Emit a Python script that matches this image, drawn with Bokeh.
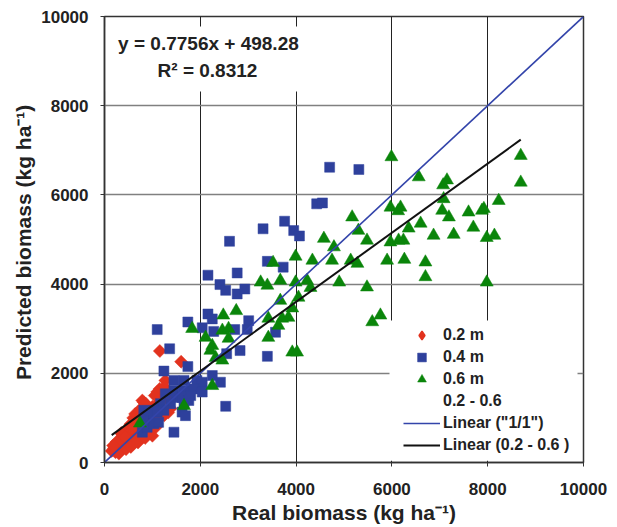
import math
from bokeh.plotting import figure
from bokeh.models import (Range1d, FixedTicker, Label, BoxAnnotation, Legend, LegendItem)
from bokeh.embed import file_html
from bokeh.resources import INLINE

FONT = "Liberation Sans"

# ---- data ----
red_x = [150, 200, 230, 260, 290, 320, 340, 370, 390, 420, 440, 470, 500, 520, 540, 570, 600, 620, 650, 680,
         700, 720, 750, 780, 800, 820, 850, 880, 900, 920, 950, 980, 1000, 1020, 1050, 1080, 1100, 1120, 1150, 1180,
         1200, 1250, 1300, 1155, 1600, 1270, 1100, 790, 860, 1340, 1380, 1200, 960, 640, 1400, 1050, 350, 250, 600, 430,
         1000, 750, 1330, 1250, 300, 450, 550, 700, 850, 180]
red_y = [260, 320, 230, 420, 330, 520, 290, 620, 450, 340, 720, 530, 410, 660, 860, 480, 1000, 700, 560, 900,
         1100, 620, 820, 1000, 700, 1350, 920, 620, 1150, 800, 1020, 720, 1250, 900, 1120, 800, 1300, 960, 1650, 1220,
         1450, 1060, 1520, 2500, 2260, 1840, 1580, 1390, 1320, 1390, 1210, 1130, 1020, 1090, 1500, 1500, 660, 460, 420, 570,
         600, 1200, 1120, 1700, 200, 300, 350, 450, 550, 380]

blue_x = [4700, 5310, 4430, 4550, 3760, 3950, 4070, 3310, 2610, 3400, 3730, 2160, 2770, 2410, 2530, 2770, 2930,
          2160, 2250, 1740, 2040, 2280, 2720, 3010, 2980, 3570, 2830, 3400, 2550, 1740, 1100, 1360, 1240, 1450,
          1660, 1930, 2040, 1450, 1660, 1860, 1270, 1480, 1620, 1800, 2040, 2420, 2250, 2530, 1170, 1380, 1030,
          1240, 1660, 1760, 1620, 820, 920, 1100, 790, 890, 820, 1030, 1130, 1450, 1690]
blue_y = [6620, 6570, 5800, 5820, 5410, 5200, 5080, 5240, 4960, 4510, 4380, 4200, 4250, 3990, 3860, 3780, 3890,
          3330, 3220, 3150, 3020, 2940, 2980, 3180, 2980, 2920, 2510, 2380, 2440, 2150, 2980, 2550, 2050, 1840,
          1840, 1840, 1800, 1610, 1610, 1650, 1540, 1460, 1460, 1500, 1580, 1800, 1950, 1260, 1320, 1320, 1170,
          1170, 1320, 1390, 1130, 1170, 1090, 1130, 680, 790, 940, 870, 900, 680, 1050]

green_x = [5990, 6560, 7070, 7150, 8690, 8690, 8230, 7880, 7920, 7600, 7700, 7290, 7190, 7050, 7080, 7980, 8140,
           7980, 6870, 6600, 6350, 6180, 5970, 6130, 6140, 6240, 5970, 5900, 6260, 6700, 6700,
           5300, 5170, 5480, 4580, 4790, 4750, 5140, 5280, 4900, 5480, 5590, 5760,
           3990, 4340, 3520, 3260, 3400, 3670, 3990, 4230, 4300, 3670, 4050, 3920, 3420, 3710, 3840, 3630, 3420,
           3920, 4020, 2480, 2750, 2460, 2590, 2590, 2110, 2250, 2210, 2320, 2460, 2250, 1830, 1660, 740]
green_y = [6850, 6400, 6220, 6330, 6880, 6280, 5870, 5650, 5690, 5610, 5270, 5110, 5500, 5650, 5910, 5040, 5090,
           4040, 5090, 5360, 5250, 5720, 5720, 5640, 4980, 4980, 4940, 4530, 4550, 4490, 4160,
           5200, 5500, 4980, 5020, 4830, 4530, 4530, 4460, 4040, 3930, 3150, 3300,
           4620, 4530, 4480, 4040, 3970, 4080, 4040, 4080, 3920, 3630, 3700, 3460, 3230, 3230, 3250, 3070, 2800,
           2470, 2470, 3300, 3400, 2960, 3000, 2780, 2800, 2620, 2510, 2350, 2290, 1720, 3000, 1270, 880]

fit_slope = 0.7756
fit_intercept = 498.28
identity = [0, 10000]
ticks = [0, 2000, 4000, 6000, 8000, 10000]

all_x = red_x + blue_x + green_x
fit_x = [min(all_x), max(all_x)]
fit_y = [fit_slope * v + fit_intercept for v in fit_x]

RED = "#E2321E"
BLUE = "#2E409C"
GREEN = "#0A850A"
LINE_BLUE = "#3344AA"

p = figure(frame_width=479, frame_height=446, output_backend="svg", toolbar_location=None,
           x_range=Range1d(0, 10000), y_range=Range1d(0, 10000),
           min_border_left=104, min_border_top=16, min_border_right=26, min_border_bottom=57,
           background_fill_color="white", border_fill_color="white")

p.outline_line_color = "#333333"
p.outline_line_width = 1.5

p.xgrid.grid_line_color = "#222222"
p.xgrid.grid_line_width = 1
p.ygrid.grid_line_color = "#808080"
p.ygrid.grid_line_width = 1.5

for ax in (p.xaxis[0], p.yaxis[0]):
    ax.ticker = FixedTicker(ticks=ticks)
    ax.axis_line_color = "#333333"
    ax.axis_line_width = 1.5
    ax.major_tick_out = 4
    ax.major_tick_in = 0
    ax.major_tick_line_color = "#333333"
    ax.minor_tick_line_color = None
    ax.major_label_text_font = FONT
    ax.major_label_text_font_style = "bold"
    ax.major_label_text_font_size = "17px"
    ax.major_label_text_color = "#222222"
    ax.axis_label_text_font = FONT
    ax.axis_label_text_font_style = "bold"
    ax.axis_label_text_font_size = "21px"
    ax.axis_label_text_color = "#222222"

p.xaxis.axis_label = "Real biomass (kg ha\u207b\u00b9)"
p.yaxis.axis_label = "Predicted biomass  (kg ha\u207b\u00b9)"
p.xaxis.major_label_standoff = 16
p.yaxis.major_label_standoff = 12
p.xaxis.axis_label_standoff = 3
p.yaxis.axis_label_standoff = 3

# legend key for the 0.2 m series (hidden beneath the first red marker)
r_red_key = p.scatter(red_x[:1], red_y[:1], marker="diamond", size=8,
                      fill_color=RED, line_color=RED, line_width=1.5)
r_red = p.scatter(red_x, red_y, marker="square", size=9.2, angle=math.pi / 4,
                  fill_color=RED, line_color=RED, line_width=0.5)
r_blue = p.scatter(blue_x, blue_y, marker="square", size=10,
                   fill_color=BLUE, line_color=BLUE, line_width=0.5)
r_green = p.scatter(green_x, green_y, marker="triangle", size=13,
                    fill_color=GREEN, line_color=GREEN, line_width=0.5)
r_blank = p.scatter([], [], marker="circle", size=1, fill_alpha=0, line_alpha=0)
r_ident = p.line(identity, identity, line_color=LINE_BLUE, line_width=1.6)
r_fit = p.line(fit_x, fit_y, line_color="#111111", line_width=2)

# white boxes behind equation and legend
p.add_layout(BoxAnnotation(left=30, right=4300, bottom=8318, top=9776,
                           fill_color="white", fill_alpha=1, line_color=None))
p.add_layout(BoxAnnotation(left=5950, right=9875, bottom=40, top=3184,
                           fill_color="white", fill_alpha=1, line_color=None))

p.add_layout(Label(x=2170, y=9400, text="y = 0.7756x + 498.28", text_align="center",
                   text_baseline="middle", text_font=FONT, text_font_style="bold",
                   text_font_size="19px", text_color="#222222"))
p.add_layout(Label(x=2150, y=8800, text="R\u00b2 = 0.8312", text_align="center",
                   text_baseline="middle", text_font=FONT, text_font_style="bold",
                   text_font_size="19px", text_color="#222222"))

legend = Legend(items=[
    LegendItem(label="0.2 m", renderers=[r_red_key]),
    LegendItem(label="0.4 m", renderers=[r_blue]),
    LegendItem(label="0.6 m", renderers=[r_green]),
    LegendItem(label="0.2 - 0.6", renderers=[r_blank]),
    LegendItem(label='Linear ("1/1")', renderers=[r_ident]),
    LegendItem(label="Linear (0.2 - 0.6 )", renderers=[r_fit]),
], location=(299, 6), margin=0, padding=5, spacing=0, glyph_width=37, glyph_height=22,
    label_height=22, label_standoff=3, border_line_color=None, background_fill_alpha=0,
    label_text_font=FONT, label_text_font_style="bold", label_text_font_size="16px",
    label_text_color="#222222")
p.add_layout(legend)

open("out.html", "w").write(file_html(p, INLINE))
